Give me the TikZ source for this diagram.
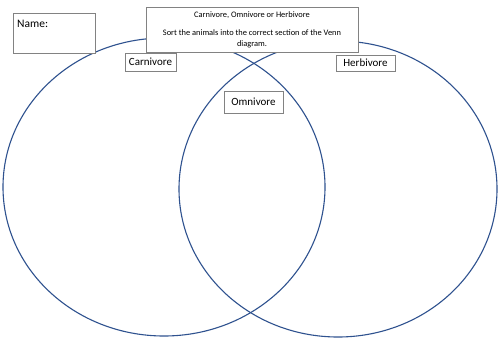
\documentclass[tikz,border=0pt]{standalone}
\usepackage{fontspec}
\setmainfont{Carlito}
\definecolor{venn}{RGB}{47,82,143}
\definecolor{boxgray}{RGB}{130,130,130}
\begin{document}
\begin{tikzpicture}[x=1pt,y=-1pt,
  vennline/.style={draw=venn,line width=1.1pt},
  labelbox/.style={draw=boxgray,fill=white,line width=0.8pt,inner sep=0pt},
  lbl/.style={font=\fontsize{11}{12}\selectfont,inner sep=0pt},
]
\useasboundingbox (0,0) rectangle (500,353);
\fill[white] (0,0) rectangle (500,353);
\draw[vennline] (164,187) ellipse [x radius=161, y radius=149];
\draw[vennline] (338,189) ellipse [x radius=159, y radius=148];
% Name box
\node[labelbox,minimum width=82pt,minimum height=40pt] (name) at (54,33) {};
\node[lbl,anchor=west,font=\fontsize{11.5}{12}\selectfont] (nametext) at (17,24) {Name:};
% Title box
\node[labelbox,minimum width=212pt,minimum height=45pt] (title) at (252,29.5) {};
\node[font=\fontsize{8.4}{10}\selectfont,inner sep=0pt] (titletext) at (252,15.5) {Carnivore, Omnivore or Herbivore};
\node[font=\fontsize{8.4}{10.6}\selectfont,inner sep=0pt,align=center] (instr) at (252,39) {Sort the animals into the correct section of the Venn\\diagram.};
% labels
\node[labelbox,minimum width=51pt,minimum height=18pt] (carn) at (150.5,62) {};
\node[lbl] at (carn) {Carnivore};
\node[labelbox,minimum width=59pt,minimum height=16pt] (herb) at (365.5,63) {};
\node[lbl] at (herb) {Herbivore};
\node[labelbox,minimum width=59pt,minimum height=22pt] (omni) at (253.5,102) {};
\node[lbl] at (omni) {Omnivore};
\end{tikzpicture}
\end{document}
